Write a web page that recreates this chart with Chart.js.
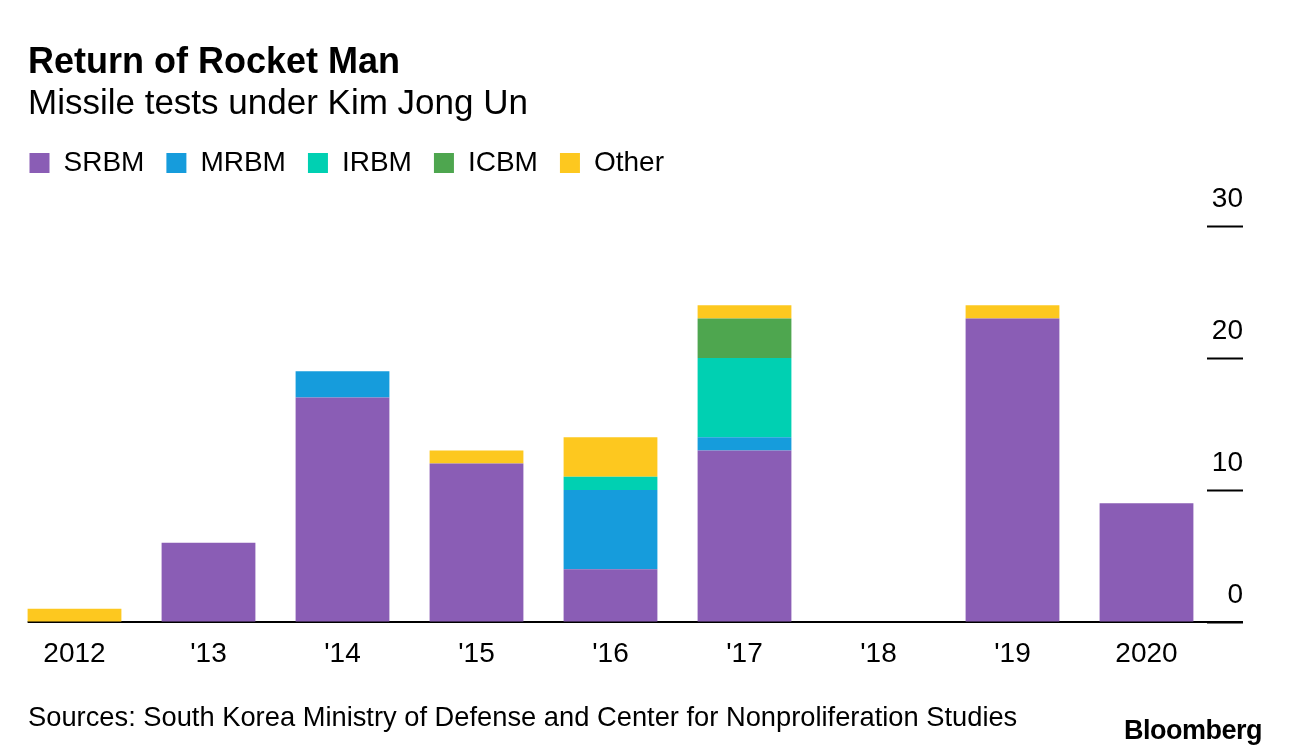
<!DOCTYPE html>
<html>
<head>
<meta charset="utf-8">
<title>Return of Rocket Man</title>
<script src="https://cdn.jsdelivr.net/npm/chart.js@4/dist/chart.umd.min.js"></script>
<style>
  html, body { margin: 0; padding: 0; background: #fff; }
  .page { position: relative; width: 1289px; height: 756px; overflow: hidden; font-family: 'Liberation Sans', Arial, sans-serif; color: #000; }
  .page canvas { position: absolute; left: 0; top: 0; }
  .txt { position: absolute; white-space: nowrap; margin: 0; }
  .title { left: 28px; top: 42.5px; font-size: 36px; line-height: 36px; font-weight: bold; }
  .subtitle { left: 28px; top: 84.4px; font-size: 35px; line-height: 35px; }
  .source { left: 28px; top: 703px; font-size: 27.3px; line-height: 27.3px; }
  .brand { right: 27px; top: 717px; font-size: 27px; line-height: 27px; font-weight: bold; letter-spacing: -0.5px; }
</style>
</head>
<body>
<div class="page">
  <canvas id="chart-missiles" width="1289" height="756"></canvas>
  <div class="txt title">Return of Rocket Man</div>
  <div class="txt subtitle">Missile tests under Kim Jong Un</div>
  <div class="txt source">Sources: South Korea Ministry of Defense and Center for Nonproliferation Studies</div>
  <div class="txt brand">Bloomberg</div>
</div>
<script>
// data
const years = ['2012', "'13", "'14", "'15", "'16", "'17", "'18", "'19", '2020'];
const srbm  = [0, 6, 17, 12, 4, 13, 0, 23, 9];
const mrbm  = [0, 0, 2, 0, 6, 1, 0, 0, 0];
const irbm  = [0, 0, 0, 0, 1, 6, 0, 0, 0];
const icbm  = [0, 0, 0, 0, 0, 3, 0, 0, 0];
const other = [1, 0, 0, 1, 3, 1, 0, 1, 0];
const yTicks = [0, 10, 20, 30];

const AXIS_AT = 8.72;     // x-category position where the value axis sits (right side)
const BASE_FROM = -0.35;  // baseline starts at the left edge of the first bar

const FONT = "'Liberation Sans', Arial, sans-serif";
Chart.defaults.font.family = FONT;
Chart.defaults.color = '#000';

// pushes the plot down below the legend row
const legendSpacer = {
  id: 'legendSpacer',
  beforeInit(chart) {
    const fit = chart.legend.fit;
    chart.legend.fit = function () {
      fit.bind(chart.legend)();
      this.height += 39;
    };
  },
};

// black zero line running under the bars out to the axis
const baseline = {
  id: 'baseline',
  beforeDatasetsDraw(chart) {
    const { ctx, scales: { x, y } } = chart;
    const y0 = Math.round(y.getPixelForValue(0));
    ctx.save();
    ctx.strokeStyle = '#000';
    ctx.lineWidth = 2;
    ctx.beginPath();
    ctx.moveTo(x.getPixelForValue(BASE_FROM), y0);
    ctx.lineTo(x.getPixelForValue(AXIS_AT), y0);
    ctx.stroke();
    ctx.restore();
  },
};

const series = [
  { label: 'SRBM', data: srbm, color: '#8a5db5' },
  { label: 'MRBM', data: mrbm, color: '#169cdc' },
  { label: 'IRBM', data: irbm, color: '#00d0b2' },
  { label: 'ICBM', data: icbm, color: '#4ea64f' },
  { label: 'Other', data: other, color: '#fdc81f' },
];

new Chart(document.getElementById('chart-missiles').getContext('2d'), {
  type: 'bar',
  data: {
    labels: years,
    datasets: series.map((s) => ({
      label: s.label,
      data: s.data,
      backgroundColor: s.color,
      borderWidth: 0,
      barPercentage: 0.7,
      categoryPercentage: 1,
    })),
  },
  options: {
    responsive: false,
    animation: false,
    devicePixelRatio: 1,
    layout: { padding: { left: 7.5, right: 75.5, top: 127, bottom: 78.4 } },
    plugins: {
      tooltip: { enabled: false },
      legend: {
        position: 'top',
        align: 'start',
        labels: {
          boxWidth: 20,
          boxHeight: 20,
          padding: 22,
          color: '#000',
          font: { size: 28 },
        },
      },
    },
    scales: {
      x: {
        stacked: true,
        grid: { display: false },
        border: { display: false },
        ticks: { font: { size: 28 }, color: '#000', padding: 7, maxRotation: 0, autoSkip: false },
      },
      y: {
        stacked: true,
        position: { x: AXIS_AT },
        min: 0,
        max: 30,
        afterBuildTicks: (axis) => { axis.ticks = yTicks.map((v) => ({ value: v })); },
        grid: {
          drawOnChartArea: false,
          drawTicks: true,
          tickLength: 36,
          tickWidth: 2,
          tickColor: '#000',
        },
        border: { display: false },
        ticks: { font: { size: 28 }, color: '#000', labelOffset: -27, padding: -36 },
      },
    },
  },
  plugins: [legendSpacer, baseline],
});
</script>
</body>
</html>
